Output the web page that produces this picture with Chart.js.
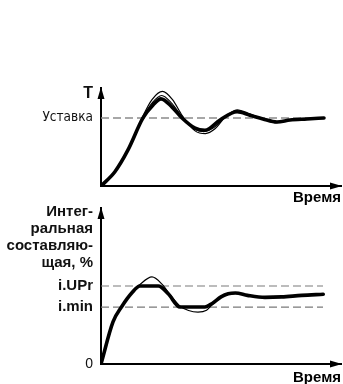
<!DOCTYPE html>
<html>
<head>
<meta charset="utf-8">
<script src="https://cdn.jsdelivr.net/npm/chart.js@4.4.0/dist/chart.umd.min.js"></script>
<style>
  html, body { margin: 0; padding: 0; background: #fff; overflow: hidden; width: 343px; height: 384px; }
  #wrapTop { position: absolute; left: 0; top: 70px; width: 343px; height: 140px; }
  #wrapBottom { position: absolute; left: 0; top: 200px; width: 343px; height: 190px; }
</style>
</head>
<body>
<div id="wrapTop"><canvas id="topChart"></canvas></div>
<div id="wrapBottom"><canvas id="bottomChart"></canvas></div>
<script>
// --- top chart: temperature, setpoint = 100
const topThickT = [0, 5.8, 11.25, 17.5, 21.7, 25, 29.6, 33.75, 39.2, 43.3, 49.6, 56.7, 62, 67.5, 73.3, 78.75, 85.8, 92.9];
const topThickY = [0, 21, 53, 100, 119, 128, 116, 100, 85, 82, 97, 109, 104, 98.5, 94, 97, 98.5, 100];
const topThin1T = [0, 5.8, 11.25, 17.5, 21.25, 25.6, 29.8, 33.75, 39.2, 43.5, 47.5, 51.7, 56.7, 62, 68.3, 73.3, 79.6, 92.9];
const topThin1Y = [0, 21, 53, 103, 127, 139, 127, 104, 81, 77, 84, 101, 112, 106, 97, 93, 97, 100];
const topThin2T = [0, 5.8, 11.25, 17.5, 21.5, 25.3, 29.6, 33.75, 39.2, 42.8, 47.5, 51.7, 56.25, 62, 68, 73.3, 79, 92.9];
const topThin2Y = [0, 21, 53, 101, 123, 133, 121, 102, 83, 80, 87, 102, 110, 105, 97.5, 93.5, 97, 100];
const setpointT = [0, 92.5];
const setpointY = [100, 100];
const topTickValues = [100, 135.3];
const topTickLabels = ['Уставка', 'T'];

// --- bottom chart: integral component, %
const botThickT = [0, 5, 8.6, 12.8, 16.25, 23.9, 28, 32.9, 43.3, 46.5, 50, 53, 56, 61, 68.3, 75.3, 83.6, 92.6];
const botThickY = [0, 27, 36.7, 45.5, 50, 50, 45, 36.5, 36.5, 39, 43, 45, 45.5, 44, 42.7, 43, 44, 44.7];
const botThinT = [0, 5, 8.6, 12.8, 16.25, 21.25, 25.5, 29, 33, 36.5, 40.4, 44, 47, 51, 55.8, 61, 68.3, 75.3, 83.6, 92.6];
const botThinY = [0, 27, 36.7, 45.5, 51, 55.8, 51, 44, 37, 34.3, 33.3, 34.5, 39, 43.5, 45.3, 44, 42.7, 43, 44, 44.7];
const iUPrT = [0, 92.5];
const iUPrY = [50, 50];
const iMinT = [0, 92.5];
const iMinY = [36.5, 36.5];
const botTickValues = [0, 36.5, 50, 81.4];
const botTickLabels = ['0', 'i.min', 'i.UPr', ['Интег-', 'ральная', 'составляю-', 'щая, %']];

const pts = (xs, ys) => xs.map((x, i) => ({ x: x, y: ys[i] }));

const arrows = {
  id: 'arrows',
  afterDraw(chart) {
    const { ctx, chartArea: a } = chart;
    ctx.save();
    ctx.fillStyle = '#000';
    ctx.beginPath();
    ctx.moveTo(a.left, a.top - 1);
    ctx.lineTo(a.left - 3.5, a.top + 11);
    ctx.lineTo(a.left + 3.5, a.top + 11);
    ctx.closePath();
    ctx.fill();
    ctx.beginPath();
    ctx.moveTo(a.right + 1, a.bottom);
    ctx.lineTo(a.right - 11, a.bottom - 3.5);
    ctx.lineTo(a.right - 11, a.bottom + 3.5);
    ctx.closePath();
    ctx.fill();
    ctx.restore();
  }
};

function curve(data, width, order) {
  return {
    data: data, borderColor: '#000', borderWidth: width, pointRadius: 0,
    cubicInterpolationMode: 'monotone', borderCapStyle: 'round', borderJoinStyle: 'round',
    fill: false, order: order
  };
}
function dashed(data, width, color) {
  return {
    data: data, borderColor: color, borderWidth: width, borderDash: [8, 4],
    pointRadius: 0, fill: false, order: 10
  };
}

function xScale(h) {
  return {
    type: 'linear', min: 0, max: 100,
    grid: { display: false, drawTicks: false },
    border: { display: true, color: '#000', width: 2 },
    ticks: { display: false },
    title: {
      display: true, text: 'Время', align: 'end', color: '#000',
      font: { family: "'Liberation Sans', Arial, sans-serif", size: 15, weight: 'bold', lineHeight: 1.2 },
      padding: { top: 0, bottom: 3 }
    },
    afterFit(s) { s.height = h; s.paddingLeft = 0; s.paddingRight = 0; }
  };
}

function yScale(max, values, labels, fonts) {
  return {
    type: 'linear', min: 0, max: max,
    grid: { display: false, drawTicks: false },
    border: { display: true, color: '#000', width: 2 },
    afterBuildTicks(s) { s.ticks = values.map(v => ({ value: v })); },
    ticks: {
      autoSkip: false, padding: 8, color: '#111',
      callback: (v, i) => labels[i],
      font: (c) => fonts[c.index]
    },
    afterFit(s) { s.width = 101; s.paddingTop = 0; s.paddingBottom = 0; }
  };
}

const common = {
  responsive: true, maintainAspectRatio: false, animation: false,
  plugins: { legend: { display: false }, tooltip: { enabled: false } }
};

new Chart(document.getElementById('topChart'), {
  type: 'line',
  data: {
    datasets: [
      curve(pts(topThickT, topThickY), 3.6, 1),
      curve(pts(topThin1T, topThin1Y), 1.2, 2),
      curve(pts(topThin2T, topThin2Y), 1.2, 3),
      dashed(pts(setpointT, setpointY), 1.6, '#8a8a8a')
    ]
  },
  options: Object.assign({}, common, {
    layout: { padding: { top: 18, right: 2, left: 0, bottom: 0 } },
    scales: {
      x: xScale(24),
      y: yScale(144, topTickValues, topTickLabels, [
        { family: "'Liberation Sans Narrow', 'DejaVu Sans Condensed', sans-serif", size: 13.5 },
        { family: "'Liberation Sans', Arial, sans-serif", size: 16, weight: 'bold' }
      ])
    }
  }),
  plugins: [arrows]
});

new Chart(document.getElementById('bottomChart'), {
  type: 'line',
  data: {
    datasets: [
      curve(pts(botThickT, botThickY), 3.6, 1),
      curve(pts(botThinT, botThinY), 1.2, 2),
      dashed(pts(iUPrT, iUPrY), 1.2, '#7a7a7a'),
      dashed(pts(iMinT, iMinY), 1.2, '#7a7a7a')
    ]
  },
  options: Object.assign({}, common, {
    layout: { padding: { top: 8, right: 2, left: 0, bottom: 0 } },
    scales: {
      x: xScale(26),
      y: yScale(100, botTickValues, botTickLabels, [
        { family: "'Liberation Sans', Arial, sans-serif", size: 14 },
        { family: "'Liberation Sans', Arial, sans-serif", size: 15, weight: 'bold' },
        { family: "'Liberation Sans', Arial, sans-serif", size: 15, weight: 'bold' },
        { family: "'Liberation Sans', Arial, sans-serif", size: 15, weight: 'bold', lineHeight: '17px' }
      ])
    }
  }),
  plugins: [arrows]
});
</script>
</body>
</html>
